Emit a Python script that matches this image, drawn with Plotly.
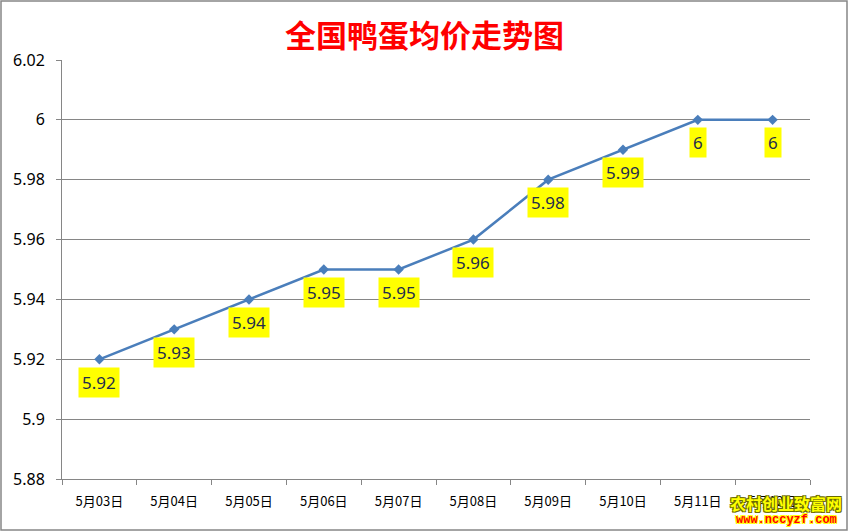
import plotly.graph_objects as go

categories = ["5月03日", "5月04日", "5月05日", "5月06日", "5月07日",
              "5月08日", "5月09日", "5月10日", "5月11日", "5月12日"]
prices = [5.92, 5.93, 5.94, 5.95, 5.95, 5.96, 5.98, 5.99, 6.0, 6.0]
label_texts = ["5.92", "5.93", "5.94", "5.95", "5.95", "5.96", "5.98", "5.99", "6", "6"]
y_ticks = [5.88, 5.9, 5.92, 5.94, 5.96, 5.98, 6.0, 6.02]
y_tick_labels = ["5.88", "5.9", "5.92", "5.94", "5.96", "5.98", "6", "6.02"]

W, H = 849, 532
L, R, T, B = 62, 39, 60, 53
pw, ph = W - L - R, H - T - B

fig = go.Figure()
fig.add_trace(go.Scatter(
    x=categories, y=prices, mode="lines+markers",
    line=dict(color="#4A7EBB", width=2.5),
    marker=dict(symbol="diamond", size=8, color="#4A7EBB"),
    hoverinfo="x+y", showlegend=False,
))

annotations = []
for c, v, t in zip(categories, prices, label_texts):
    annotations.append(dict(
        x=c, y=v, xref="x", yref="y", text=t, showarrow=False,
        yshift=-23, bgcolor="#FFFF00", borderpad=3,
        font=dict(family="Noto Sans, DejaVu Sans, sans-serif", size=17, color="#1F2D4D"),
    ))

# title
annotations.append(dict(
    x=(W / 2 - L) / pw, y=(H - B - 33) / ph, xref="paper", yref="paper",
    text="<b>全国鸭蛋均价走势图</b>", showarrow=False,
    font=dict(family="Noto Sans CJK SC", size=31, color="#FF0000"),
    xanchor="center", yanchor="middle",
))
# watermark
annotations.append(dict(
    x=(786 - L) / pw, y=(H - B - 503) / ph, xref="paper", yref="paper",
    text="<b>农村创业致富网</b>", showarrow=False,
    font=dict(family="Noto Sans CJK SC", size=16, color="#FFFF00",
              shadow="1px 1px 0 #6B6B00, -1px -1px 0 #6B6B00, 1px -1px 0 #6B6B00, -1px 1px 0 #6B6B00"),
    xanchor="center", yanchor="middle",
))
annotations.append(dict(
    x=(786 - L) / pw, y=(H - B - 520) / ph, xref="paper", yref="paper",
    text="<b>www.nccyzf.com</b>", showarrow=False,
    font=dict(family="Liberation Mono, DejaVu Sans Mono, monospace", size=12, color="#FF0000",
              shadow="1px 1px 0 #FFFF00, -1px -1px 0 #FFFF00, 1px -1px 0 #FFFF00, -1px 1px 0 #FFFF00"),
    xanchor="center", yanchor="middle",
))

shapes = [dict(
    type="rect", xref="paper", yref="paper",
    x0=(1 - L) / pw, x1=(W - 2 - L) / pw,
    y0=(H - B - (H - 2)) / ph, y1=(H - B - 1) / ph,
    line=dict(color="#868686", width=1.5), fillcolor="rgba(0,0,0,0)", layer="below",
)]

fig.update_layout(
    width=W, height=H,
    margin=dict(l=L, r=R, t=T, b=B),
    paper_bgcolor="white", plot_bgcolor="white",
    annotations=annotations, shapes=shapes,
    xaxis=dict(
        type="category", tickson="boundaries", ticks="outside", ticklen=5,
        tickcolor="#868686", showline=True, linecolor="#868686", linewidth=1,
        showgrid=False, tickfont=dict(family="Noto Sans CJK SC", size=13, color="#000000"),
        ticklabelstandoff=10,
        range=[-0.5, len(categories) - 0.5], fixedrange=True,
    ),
    yaxis=dict(
        range=[5.88, 6.02], tickvals=y_ticks, ticktext=y_tick_labels,
        ticks="outside", ticklen=5, tickcolor="#868686",
        showline=True, linecolor="#868686", linewidth=1,
        showgrid=True, gridcolor="#868686", gridwidth=1, zeroline=False,
        tickfont=dict(family="Noto Sans, DejaVu Sans, sans-serif", size=16, color="#000000"),
        ticklabelstandoff=8,
        fixedrange=True,
    ),
)

fig.write_html("out.html", config={"displayModeBar": False},
               post_script="document.body.style.margin='0';document.body.style.overflow='hidden';")
